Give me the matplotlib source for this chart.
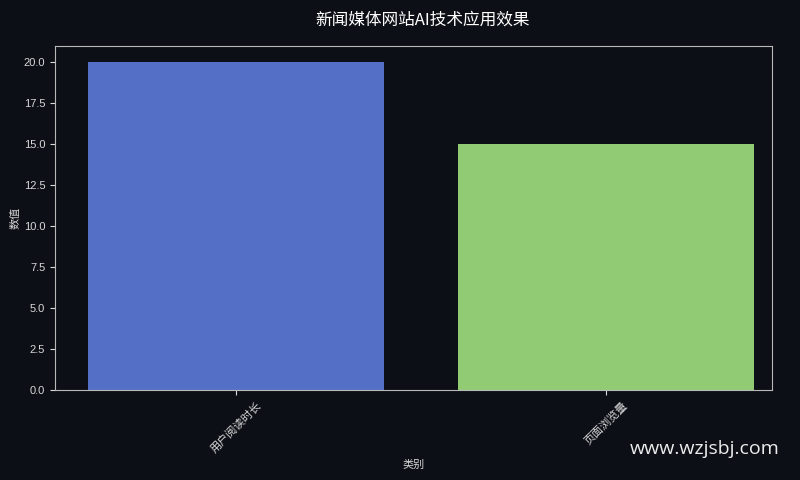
import matplotlib
matplotlib.use('Agg')
import matplotlib.pyplot as plt

categories = ['用户阅读时长', '页面浏览量']
values = [20, 15]
colors = ['#5470c6', '#91cc75']

plt.rcParams['font.family'] = ['Noto Sans CJK SC', 'DejaVu Sans']
bg = '#0c0f16'
fg = '#d8d8d8'

fig = plt.figure(figsize=(8, 4.8), dpi=100, facecolor=bg)
ax = fig.add_axes([55 / 800, 1 - 390 / 480, (772 - 55) / 800, (390 - 46) / 480])
ax.set_facecolor(bg)

ax.bar(categories, values, width=0.8, color=colors)
ax.set_xlim(-0.49, 1.45)
ax.set_ylim(0, 21)
ax.set_yticks([0, 2.5, 5, 7.5, 10, 12.5, 15, 17.5, 20])
ax.set_yticklabels(['0.0', '2.5', '5.0', '7.5', '10.0', '12.5', '15.0', '17.5', '20.0'],
                   family=['Liberation Sans'])

for s in ax.spines.values():
    s.set_color('#b8b8b8')
ax.tick_params(colors=fg, labelsize=8)
plt.setp(ax.get_xticklabels(), rotation=45)

ax.set_xlabel('类别', color=fg, fontsize=8)
ax.set_ylabel('数值', color=fg, fontsize=8, labelpad=2)
fig.suptitle('新闻媒体网站AI技术应用效果', color='white', fontsize=12, x=0.528, y=0.975)

fig.text(0.975, 0.065, 'www.wzjsbj.com', color='#ececec', fontsize=14, ha='right', va='center',
         family=['Open Sans', 'DejaVu Sans'])

fig.savefig('out.png', dpi=100, facecolor=bg)
